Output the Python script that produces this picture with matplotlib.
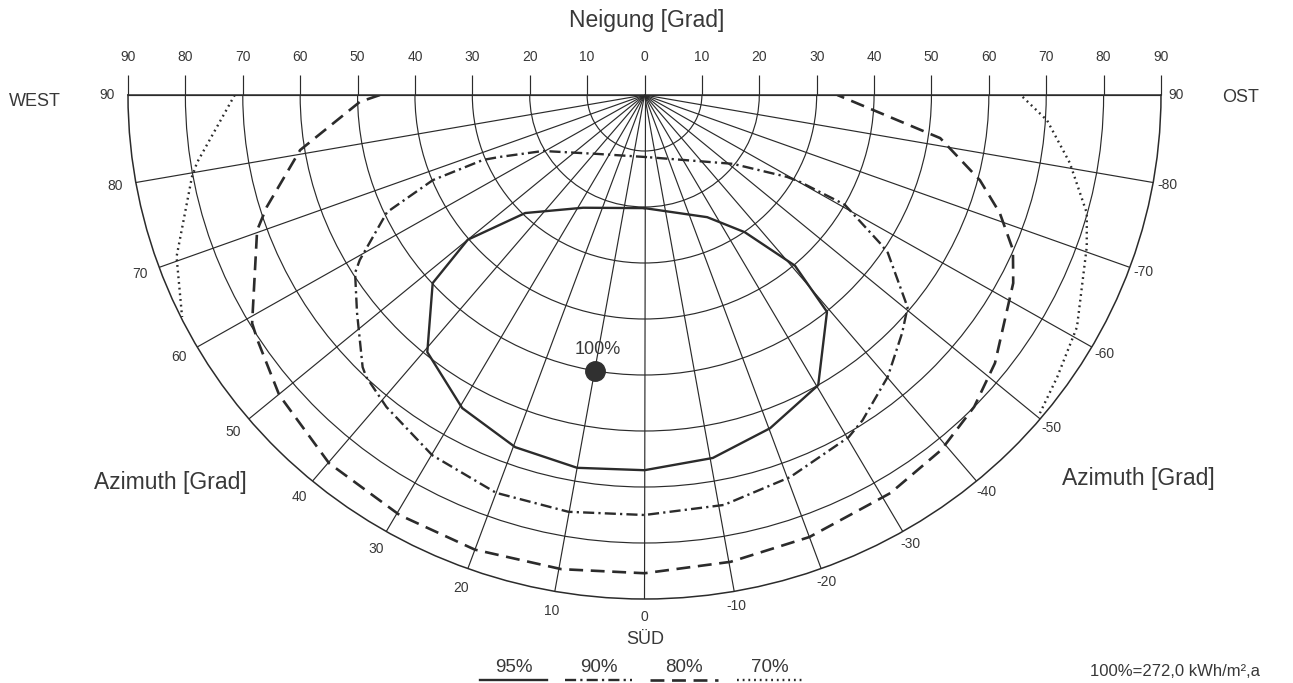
import numpy as np
import matplotlib
matplotlib.use("Agg")
import matplotlib.pyplot as plt
from matplotlib.lines import Line2D

plt.rcParams['font.family'] = ['Liberation Sans', 'DejaVu Sans']
plt.rcParams['lines.scale_dashes'] = False

W, H = 1293, 683
INK = '#2b2b2b'
TXT = '#383838'

# Isolines of relative yearly irradiation.
# Azimuth in degrees (west positive, east negative, 0 = south), tilt in degrees.
az_95 = [0, 28, 44.6, 50, 47.7, 39.5, 29.6, 19.7, 10, 0, -10.4, -20.2, -30.3,
         -39.4, -40.7, -35.5, -26.6, 0]
tilt_95 = [20.2, 22.8, 29.6, 40.2, 49.9, 59.5, 64.3, 66.8, 67.6, 67, 65.9, 63.4,
           60, 50.1, 40.2, 30.1, 24.4, 20.2]

az_90 = [-2.3, 38.3, 60.5, 66.3, 67.6, 67.6, 65, 59.3, 57.8, 52.2, 45.3, 43.9,
         38.9, 29.9, 20, 10.1, 0, -10.7, -20.4, -30.2, -33.2, -40.1, -46.6,
         -50.4, -56.4, -57.2, -60.7, -60.2, -59.5, -51.4, -2.3]
tilt_90 = [11.1, 13.4, 20.3, 27.5, 30.4, 39.9, 49.5, 57.7, 59.6, 63.4, 69.1,
           69.9, 71.6, 74.2, 75.6, 75.6, 75, 74.5, 72.8, 70.7, 69.4, 65.8, 61.8,
           59.5, 50.9, 48.8, 40, 31.2, 28.8, 19.7, 11.1]

az_80 = [90, 88.6, 80.7, 73.1, 70.3, 59.2, 57, 49.9, 39.9, 29.6, 20, 9.7, 0,
         -10.2, -20, -31.1, -39.2, -45.9, -51.9, -62.4, -66.7, -71.2, -75.4,
         -81.5, -90]
tilt_80 = [46.1, 49.6, 60.8, 68.8, 71.7, 79.6, 80.4, 83.2, 85.7, 86.3, 86.4,
           85.9, 85.4, 84.7, 84, 83, 81.8, 80, 77.6, 72.5, 69.9, 65.4, 60.4,
           52.1, 33.6]

az_70_west = [90, 81.2, 79.5, 70.5, 63.8]
tilt_70_west = [71.4, 78.9, 80.2, 86.5, 89.8]
az_70_east = [-89.7, -86.3, -80.7, -74.7, -70.6, -61.2, -55, -50.5]
tilt_70_east = [65.9, 70.3, 75.1, 79.9, 81.7, 86, 87.8, 89.3]

# Orientation with the maximum yield (100 %)
opt_az = 10
opt_tilt = 50

azimuth_ticks = list(range(90, -91, -10))
tilt_ticks = list(range(-90, 91, 10))
legend_labels = ['95%', '90%', '80%', '70%']

STYLES = {
    '95%': dict(linestyle='-', lw=1.7),
    '90%': dict(dashes=(8, 3, 1.6, 3), lw=1.7),
    '80%': dict(dashes=(10, 5.5), lw=1.9),
    '70%': dict(dashes=(1.3, 2.8), lw=1.7),
}

fig = plt.figure(figsize=(W / 100, H / 100), dpi=100)


def fx(x):
    return x / W


def fy(y):
    return 1 - y / H


# half-disc: centre line at y=95 px, lowest point at y=599 px
x_left, x_right = 128, 1161
y_top, y_bottom = 95, 599
half_h = y_bottom - y_top
# the polar wedge occupies the middle half of its axes box vertically
polar_box = [fx(x_left), fy(y_bottom + half_h / 2), (x_right - x_left) / W,
             2 * half_h / H]
scale_box = [fx(x_left), fy(y_bottom), (x_right - x_left) / W, half_h / H]

ax = fig.add_axes(polar_box, projection='polar')
ax.set_theta_zero_location('S')
ax.set_theta_direction(-1)
ax.set_thetamin(-90)
ax.set_thetamax(90)
ax.set_rlim(0, 90)
ax.set_aspect('auto')
ax.set_rgrids(np.arange(10, 90, 10))
ax.set_thetagrids(np.arange(-90, 91, 10))
ax.set_xticklabels([])
ax.set_yticklabels([])
ax.tick_params(length=0)
ax.grid(True, color=INK, lw=0.85)
for s in ax.spines.values():
    s.set_color(INK)
    s.set_linewidth(1.1)

ax.plot(np.deg2rad(az_95), tilt_95, color=INK, **STYLES['95%'])
ax.plot(np.deg2rad(az_90), tilt_90, color=INK, **STYLES['90%'])
ax.plot(np.deg2rad(az_80), tilt_80, color=INK, **STYLES['80%'])
ax.plot(np.deg2rad(az_70_west), tilt_70_west, color=INK, **STYLES['70%'])
ax.plot(np.deg2rad(az_70_east), tilt_70_east, color=INK, **STYLES['70%'])

ax.plot(np.deg2rad(opt_az), opt_tilt, 'o', ms=14, color='#303030', zorder=5)
ax.annotate('100%', xy=(np.deg2rad(opt_az), opt_tilt), xytext=(2, 15),
            textcoords='offset points', ha='center', va='center',
            fontsize=13, color=TXT)

# azimuth labels around the rim
for a in azimuth_ticks:
    r = 93.6 if a > 0 else (93.2 if a == 0 else 92.6)
    ax.text(np.deg2rad(a), r, str(a) if abs(a) != 90 else '90',
            ha='center', va='center', fontsize=10, color=TXT)

# tilt scale along the top edge
top = fig.add_axes(scale_box)
top.set_xlim(-90, 90)
top.patch.set_visible(False)
for s in top.spines.values():
    s.set_visible(False)
top.xaxis.set_ticks_position('top')
top.set_xticks(tilt_ticks)
top.set_xticklabels([str(abs(t)) for t in tilt_ticks], fontsize=10, color=TXT)
top.tick_params(axis='x', direction='out', length=14.4, width=0.85,
                color=INK, pad=8)
top.set_yticks([])

fig.text(fx(647), fy(21), 'Neigung [Grad]', ha='center', va='center',
         fontsize=16.5, color=TXT)
fig.text(fx(35), fy(102), 'WEST', ha='center', va='center', fontsize=13,
         color=TXT)
fig.text(fx(1241), fy(97), 'OST', ha='center', va='center', fontsize=13,
         color=TXT)
fig.text(fx(170), fy(483), 'Azimuth [Grad]', ha='center', va='center',
         fontsize=16.5, color=TXT)
fig.text(fx(1138), fy(479), 'Azimuth [Grad]', ha='center', va='center',
         fontsize=16.5, color=TXT)
fig.text(fx(645), fy(640), 'SÜD', ha='center', va='center', fontsize=13,
         color=TXT)
fig.text(fx(1090), fy(671), '100%=272,0 kWh/m²,a', ha='left', va='center',
         fontsize=12, color=TXT)

# legend: label above a short line sample
legend_spans = [(480, 547), (565, 632), (650, 718), (737, 802)]
for label, (x0, x1) in zip(legend_labels, legend_spans):
    fig.text(fx((x0 + x1) / 2), fy(667), label, ha='center', va='center',
             fontsize=13.5, color=TXT)
    fig.add_artist(Line2D([fx(x0), fx(x1)], [fy(680), fy(680)],
                          color=INK, **STYLES[label]))

fig.savefig('out.png', dpi=100)
